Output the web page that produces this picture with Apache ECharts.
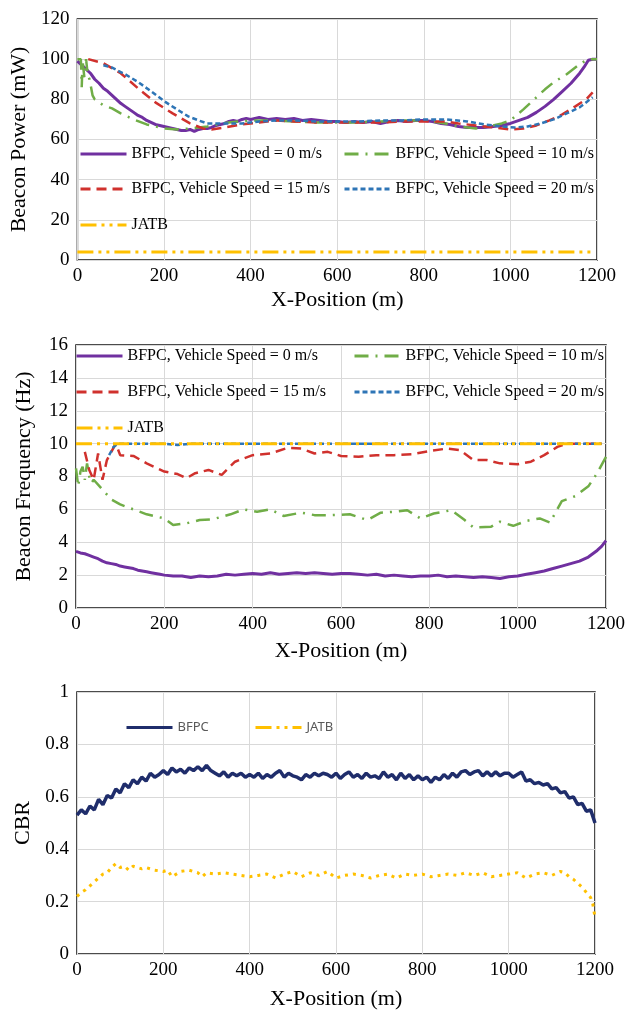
<!DOCTYPE html>
<html>
<head>
<meta charset="utf-8">
<script src="https://cdn.jsdelivr.net/npm/echarts@6/dist/echarts.min.js"></script>
<style>
  html, body { margin: 0; padding: 0; background: #fff; }
  #main { width: 628px; height: 1011px; }
</style>
</head>
<body>
<div id="main"></div>
<script>
// x-position tick labels shared by the three panels
const xTicks = [0, 200, 400, 600, 800, 1000, 1200]

const names = [
  'BFPC, Vehicle Speed = 0 m/s',
  'BFPC, Vehicle Speed = 10 m/s',
  'BFPC, Vehicle Speed = 15 m/s',
  'BFPC, Vehicle Speed = 20 m/s',
  'JATB'
]

// --- panel 1: beacon power (mW), [x, y]
const powerSpeed0 = [[0,99],[10,97],[20,95],[30,93],[40,90],[50,88],[60,85.5],[70,84],[80,82],[90,80],[100,78],[110,76.5],[120,75],[130,73.5],[140,72],[150,71],[160,69.5],[170,68.5],[180,67.5],[190,67],[200,66.5],[210,66],[220,65.5],[230,65],[240,64.5],[250,64.5],[260,65],[270,64],[280,65],[290,65.5],[300,65.5],[310,66],[320,67],[330,67.5],[340,68],[350,69],[360,69.5],[370,69],[380,70],[390,70.5],[400,70],[420,71],[440,70],[460,70.5],[480,70],[500,70.5],[520,69.5],[540,70],[560,69.5],[580,69],[600,69],[620,68.5],[640,69],[660,68.5],[680,69],[700,68],[720,69],[740,69.5],[760,69],[780,69.5],[800,69.5],[820,69],[840,68],[860,67.5],[880,66.5],[900,66],[920,66],[940,66],[960,66.5],[980,67],[1000,68],[1020,69.5],[1040,71],[1060,73.5],[1080,76.5],[1100,80],[1120,84],[1140,88],[1160,93],[1170,96],[1180,99.5],[1190,100],[1200,100]]
const powerSpeed10 = [[0,100],[8,100],[10,86],[12,99],[16,91],[20,100],[24,92],[28,90],[35,82],[40,80],[60,77],[80,75.5],[100,73],[130,70],[160,67.5],[200,65.5],[230,65],[260,65.5],[300,66.5],[350,68.5],[400,69.5],[450,69.5],[500,69],[550,68.5],[600,68.5],[650,68.5],[700,69],[750,69.5],[800,69.5],[850,68],[880,66.5],[920,65.5],[950,66.5],[980,68],[1000,69.5],[1030,75],[1055,80],[1080,85],[1100,88.5],[1130,92.5],[1160,97.5],[1180,100],[1200,100]]
const powerSpeed15 = [[25,100],[60,98],[100,93],[140,85.5],[180,78.5],[220,73],[260,68],[290,65.5],[310,65],[340,66],[380,67.5],[420,68.5],[460,69.5],[500,69],[550,68.5],[600,68.5],[650,68.5],[700,68.5],[750,69],[800,69],[850,69],[880,68],[920,67],[960,66],[1000,65],[1030,65.5],[1060,67],[1090,69.5],[1120,72.5],[1150,76.5],[1175,80],[1190,83.5]]
const powerSpeed20 = [[60,97],[78,96],[110,92.5],[141,88.5],[170,84],[201,79],[230,75],[256,71.5],[280,69.5],[300,68],[340,68],[380,68],[420,69],[460,69.5],[500,69.5],[550,69],[600,69],[650,69],[700,69.5],[750,69.5],[800,70],[850,70],[900,69],[940,67.5],[980,66.5],[1010,66],[1040,66.5],[1070,68],[1100,70],[1130,73],[1160,76],[1190,81]]
const powerJatb = [[0,4],[1190,4]]

// --- panel 2: beacon frequency (Hz)
const freqSpeed0 = [[0,3.45],[10,3.35],[20,3.3],[30,3.2],[40,3.1],[50,3.0],[60,2.85],[70,2.75],[80,2.7],[90,2.65],[100,2.55],[110,2.5],[120,2.45],[130,2.4],[140,2.3],[150,2.25],[160,2.2],[170,2.15],[180,2.1],[190,2.05],[200,2.0],[220,1.95],[240,1.95],[260,1.85],[280,1.95],[300,1.9],[320,1.95],[340,2.05],[360,2.0],[380,2.05],[400,2.1],[420,2.05],[440,2.15],[460,2.05],[480,2.1],[500,2.15],[520,2.1],[540,2.15],[560,2.1],[580,2.05],[600,2.1],[620,2.1],[640,2.05],[660,2.0],[680,2.05],[700,1.95],[720,2.0],[740,1.95],[760,1.9],[780,1.95],[800,1.95],[820,2.0],[840,1.9],[860,1.95],[880,1.9],[900,1.85],[920,1.9],[940,1.85],[960,1.8],[980,1.9],[1000,1.95],[1020,2.05],[1040,2.15],[1060,2.25],[1080,2.4],[1100,2.55],[1120,2.7],[1140,2.85],[1160,3.1],[1180,3.5],[1190,3.75],[1200,4.1]]
const freqSpeed10 = [[0,8.5],[5,7.4],[10,8.3],[15,8.6],[20,7.8],[25,8.8],[30,8.0],[35,7.6],[40,7.8],[60,7.2],[80,6.6],[100,6.3],[130,6.0],[160,5.7],[200,5.45],[220,5.05],[250,5.15],[280,5.35],[310,5.4],[350,5.7],[380,6.0],[410,5.85],[440,6.0],[470,5.6],[510,5.8],[540,5.65],[580,5.65],[620,5.7],[660,5.35],[690,5.8],[720,5.85],[750,5.95],[780,5.45],[810,5.75],[850,5.95],[880,5.35],[900,4.9],[940,4.95],[960,5.25],[990,5.0],[1020,5.3],[1050,5.45],[1073,5.2],[1100,6.5],[1130,6.8],[1160,7.4],[1180,8.2],[1200,9.2]]
const freqSpeed15 = [[20,9.5],[30,8.4],[40,7.8],[50,9.4],[60,7.8],[70,9.0],[80,9.5],[90,10],[100,9.3],[130,9.25],[160,8.8],[200,8.3],[230,8.15],[250,7.9],[270,8.2],[300,8.4],[330,8.1],[360,8.9],[400,9.3],[440,9.4],[480,9.75],[510,9.7],[540,9.4],[570,9.5],[600,9.25],[640,9.2],[680,9.3],[720,9.3],[760,9.35],[800,9.55],[840,9.7],[870,9.6],[900,9.0],[930,9.0],[960,8.8],[1000,8.75],[1030,8.9],[1060,9.3],[1090,9.8],[1110,10],[1190,10]]
const freqSpeed20 = [[75,9.3],[85,9.8],[95,10],[200,10],[230,9.92],[260,10],[1190,10]]
const freqJatb = [[0,10],[1190,10]]

// --- panel 3: CBR
const cbrX = [0,10,20,30,40,50,60,70,80,90,100,110,120,130,140,150,160,170,180,190,200,210,220,230,240,250,260,270,280,290,300,310,320,330,340,350,360,370,380,390,400,410,420,430,440,450,460,470,480,490,500,510,520,530,540,550,560,570,580,590,600,610,620,630,640,650,660,670,680,690,700,710,720,730,740,750,760,770,780,790,800,810,820,830,840,850,860,870,880,890,900,910,920,930,940,950,960,970,980,990,1000,1010,1020,1030,1040,1050,1060,1070,1080,1090,1100,1110,1120,1130,1140,1150,1160,1170,1180,1190,1200]
const cbrBfpc = [0.53,0.55,0.535,0.565,0.55,0.59,0.57,0.605,0.595,0.63,
  0.615,0.65,0.635,0.665,0.65,0.675,0.66,0.69,0.675,0.685,
  0.70,0.685,0.71,0.695,0.705,0.69,0.71,0.70,0.715,0.70,
  0.72,0.70,0.69,0.68,0.695,0.675,0.69,0.68,0.69,0.675,
  0.685,0.675,0.69,0.67,0.685,0.675,0.69,0.70,0.675,0.69,
  0.68,0.675,0.665,0.685,0.675,0.69,0.68,0.69,0.685,0.675,
  0.69,0.67,0.685,0.695,0.675,0.685,0.67,0.69,0.675,0.68,
  0.67,0.695,0.675,0.685,0.665,0.69,0.67,0.685,0.665,0.68,
  0.665,0.675,0.655,0.675,0.665,0.685,0.67,0.69,0.675,0.695,
  0.70,0.685,0.695,0.70,0.68,0.695,0.68,0.695,0.68,0.69,
  0.69,0.675,0.685,0.695,0.66,0.665,0.65,0.655,0.645,0.65,
  0.63,0.635,0.615,0.62,0.595,0.60,0.57,0.575,0.545,0.55,
  0.50]
const cbrJatb = [[0,0.22],[10,0.235],[20,0.245],[30,0.26],[40,0.275],[50,0.29],[60,0.305],[70,0.31],[80,0.33],[90,0.345],[100,0.33],[110,0.335],[120,0.32],[130,0.335],[140,0.33],[150,0.325],[160,0.33],[180,0.32],[200,0.315],[210,0.32],[220,0.295],[240,0.315],[260,0.32],[280,0.31],[290,0.295],[300,0.31],[320,0.305],[340,0.31],[360,0.305],[380,0.30],[400,0.295],[420,0.30],[440,0.305],[460,0.29],[480,0.305],[500,0.315],[520,0.295],[540,0.31],[560,0.30],[580,0.315],[600,0.29],[620,0.30],[640,0.305],[660,0.30],[680,0.29],[700,0.30],[720,0.305],[740,0.29],[760,0.305],[780,0.30],[800,0.305],[820,0.295],[840,0.30],[860,0.305],[880,0.30],[900,0.31],[920,0.30],[940,0.31],[960,0.295],[980,0.30],[1000,0.305],[1020,0.31],[1040,0.29],[1060,0.305],[1080,0.31],[1100,0.30],[1120,0.315],[1130,0.31],[1140,0.295],[1150,0.285],[1160,0.27],[1170,0.255],[1180,0.235],[1190,0.215],[1195,0.19],[1200,0.14]]

const serif = 'Liberation Serif'
const colors = ['#7030a0', '#70ad47', '#d0312d', '#2e75b6', '#ffc000']
const dashes = ['solid', [14, 7, 2, 7], [10, 6], [5, 3], [16, 5, 3, 5, 3, 5]]

const grids = [
  { left: 76, right: 31, top: 19, height: 241 },
  { left: 76, right: 21, top: 345, height: 263 },
  { left: 77, right: 33, top: 692, height: 262 }
]

function xAxisFor(i, gap) {
  return {
    gridIndex: i, type: 'value', min: xTicks[0], max: xTicks[xTicks.length - 1], interval: 200,
    name: 'X-Position (m)', nameLocation: 'middle', nameGap: gap,
    nameTextStyle: { fontFamily: serif, fontSize: 22, color: '#000' },
    axisLine: { show: false }, axisTick: { show: false },
    axisLabel: { fontFamily: serif, fontSize: 19, color: '#000', margin: 7, formatter: v => String(v) },
    splitLine: { lineStyle: { color: '#d9d9d9', width: 1 } }
  }
}
function yAxisFor(i, name, max, interval) {
  return {
    gridIndex: i, type: 'value', min: 0, max: max, interval: interval,
    name: name, nameLocation: 'middle', nameGap: 41,
    nameTextStyle: { fontFamily: serif, fontSize: 22, color: '#000' },
    axisLine: { show: false }, axisTick: { show: false },
    axisLabel: { fontFamily: serif, fontSize: 19, color: '#000', margin: 8 },
    splitLine: { lineStyle: { color: '#d9d9d9', width: 1 } }
  }
}
function line(name, data, k, axis) {
  return {
    name: name, type: 'line', data: data, xAxisIndex: axis, yAxisIndex: axis,
    symbol: 'none', showSymbol: false,
    lineStyle: { color: colors[k], width: k === 4 ? 3 : (k === 0 ? 3 : 2.5), type: dashes[k] },
    itemStyle: { color: colors[k] }
  }
}
function legendAt(name, left, top, serifText) {
  return {
    data: [name], left: left, top: top, padding: 0, itemWidth: 46, itemHeight: 14, itemGap: 0,
    selectedMode: false,
    itemStyle: { opacity: 0 },
    lineStyle: { width: 3 },
    textStyle: serifText
      ? { fontFamily: serif, fontSize: 16, color: '#000' }
      : { fontFamily: 'Noto Sans', fontSize: 13, color: '#595959' }
  }
}

const option = {
  animation: false,
  backgroundColor: '#fff',
  grid: grids.map(g => Object.assign({ show: true, borderColor: '#111', borderWidth: 1.5, backgroundColor: 'transparent' }, g)),
  xAxis: [xAxisFor(0, 29), xAxisFor(1, 32), xAxisFor(2, 34)],
  yAxis: [
    yAxisFor(0, 'Beacon Power (mW)', 120, 20),
    yAxisFor(1, 'Beacon Frequency (Hz)', 16, 2),
    yAxisFor(2, 'CBR', 1, 0.2)
  ],
  legend: [
    legendAt(names[0], 79, 146, true),
    legendAt(names[1], 343, 146, true),
    legendAt(names[2], 79, 181, true),
    legendAt(names[3], 343, 181, true),
    legendAt(names[4], 79, 217, true),
    legendAt(names[0], 75, 348, true),
    legendAt(names[1], 353, 348, true),
    legendAt(names[2], 75, 384, true),
    legendAt(names[3], 353, 384, true),
    legendAt(names[4], 75, 420, true),
    legendAt('BFPC', 125, 721, false),
    legendAt(names[4], 254, 721, false)
  ],
  series: [
    line(names[0], powerSpeed0, 0, 0),
    line(names[1], powerSpeed10, 1, 0),
    line(names[2], powerSpeed15, 2, 0),
    line(names[3], powerSpeed20, 3, 0),
    line(names[4], powerJatb, 4, 0),
    line(names[0], freqSpeed0, 0, 1),
    line(names[1], freqSpeed10, 1, 1),
    line(names[2], freqSpeed15, 2, 1),
    line(names[3], freqSpeed20, 3, 1),
    line(names[4], freqJatb, 4, 1),
    Object.assign(line('BFPC', cbrX.map((x, i) => [x, cbrBfpc[i]]), 0, 2),
      { lineStyle: { color: '#1f2d6b', width: 3.5 }, itemStyle: { color: '#1f2d6b' } }),
    Object.assign(line(names[4], cbrJatb, 4, 2),
      { lineStyle: { color: colors[4], width: 3, type: [3, 5] } })
  ]
}

const chart = echarts.init(document.getElementById('main'))
chart.setOption(option)
</script>
</body>
</html>
